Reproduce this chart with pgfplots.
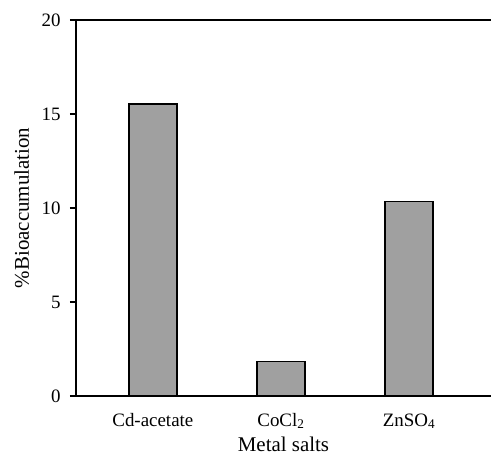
\documentclass[border=0pt]{standalone}
\usepackage{fontspec}
\setmainfont{Liberation Serif}
\usepackage{pgfplots}
\pgfplotsset{compat=1.18}
\begin{document}
\begin{tikzpicture}
\begin{axis}[
  scale only axis,
  width=415bp, height=376bp,
  xmin=-0.6, xmax=2.64,
  ymin=0, ymax=20,
  separate axis lines,
  axis x line=box,
  axis y line=left,
  axis line style={-, line width=1.1bp, black},
  xtick=data,
  xticklabels={Cd-acetate, CoCl\textsubscript{2}, ZnSO\textsubscript{4}},
  x tick style={draw=none},
  ytick={0,5,10,15,20},
  ytick pos=left,
  tick align=outside,
  major tick length=6bp,
  y tick style={line width=1.1bp, black},
  /pgf/number format/assume math mode=true,
  tick label style={font=\fontsize{19}{21}\selectfont},
  xticklabel style={anchor=base, yshift=-24bp},
  yticklabel style={xshift=-6bp},
  label style={font=\fontsize{21}{23}\selectfont},
  xlabel={Metal salts},
  ylabel={\%Bioaccumulation},
  xlabel style={at={(axis description cs:0.5,-0.148)}, anchor=base, inner sep=0pt},
  ylabel style={at={(axis description cs:-0.131,0.5)}, anchor=center},
]
\addplot[ybar, bar width=48bp, fill={rgb,255:red,160;green,160;blue,160}, draw=black, line width=1.3bp]
  coordinates {(0,15.53) (1,1.85) (2,10.33)};
\end{axis}
\pgfresetboundingbox
\path ([shift={(-76bp,-60bp)}]current axis.south west) rectangle ([shift={(0bp,20bp)}]current axis.north east);
\end{tikzpicture}
\end{document}
